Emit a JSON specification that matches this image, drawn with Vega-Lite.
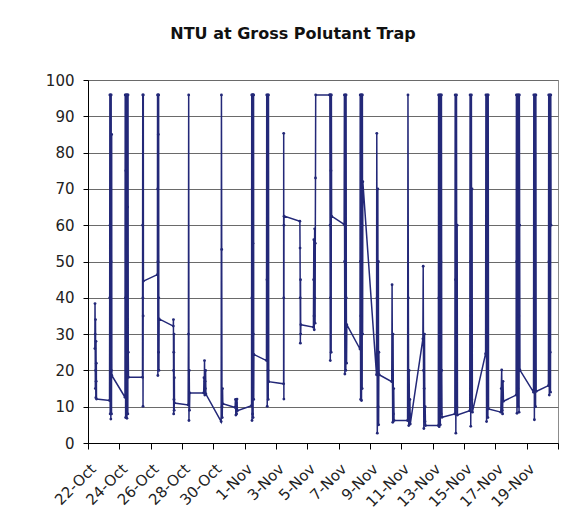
{
  "$schema": "https://vega.github.io/schema/vega-lite/v6.json",
  "autosize": {"type": "fit", "contains": "padding"},
  "width": 562,
  "height": 527,
  "padding": {"left": 45, "top": 26, "right": 3, "bottom": 17},
  "background": "white",
  "title": {
    "text": "NTU at Gross Polutant Trap",
    "font": "DejaVu Sans",
    "fontSize": 16,
    "fontWeight": "bold",
    "color": "#111111",
    "anchor": "middle",
    "dx": -30,
    "offset": 31
  },
  "config": {
    "view": {"stroke": "#8c8c8c", "strokeWidth": 1},
    "axis": {
      "labelFont": "DejaVu Sans",
      "labelFontSize": 15,
      "labelColor": "#222222",
      "domainColor": "#000000",
      "tickColor": "#000000",
      "domainWidth": 1,
      "tickWidth": 1
    },
    "axisY": {"grid": true, "gridColor": "#6a6a6a", "gridWidth": 1, "gridOpacity": 1}
  },
  "data": {
    "values": [
      {"t": "2006-10-22T10:30Z", "v": 26},
      {"t": "2006-10-22T10:45Z", "v": 38.4},
      {"t": "2006-10-22T11:00Z", "v": 30},
      {"t": "2006-10-22T11:15Z", "v": 15},
      {"t": "2006-10-22T11:30Z", "v": 34},
      {"t": "2006-10-22T11:45Z", "v": 20},
      {"t": "2006-10-22T12:00Z", "v": 12.5},
      {"t": "2006-10-22T12:15Z", "v": 28},
      {"t": "2006-10-22T12:30Z", "v": 17},
      {"t": "2006-10-22T12:45Z", "v": 22},
      {"t": "2006-10-22T13:00Z", "v": 12.1},
      {"t": "2006-10-23T09:00Z", "v": 11.7},
      {"t": "2006-10-23T09:15Z", "v": 40},
      {"t": "2006-10-23T09:30Z", "v": 95.9},
      {"t": "2006-10-23T09:45Z", "v": 60},
      {"t": "2006-10-23T10:00Z", "v": 8},
      {"t": "2006-10-23T10:15Z", "v": 30},
      {"t": "2006-10-23T10:30Z", "v": 95.9},
      {"t": "2006-10-23T10:45Z", "v": 70},
      {"t": "2006-10-23T11:00Z", "v": 6.6},
      {"t": "2006-10-23T11:15Z", "v": 50},
      {"t": "2006-10-23T11:30Z", "v": 95.9},
      {"t": "2006-10-23T11:45Z", "v": 20},
      {"t": "2006-10-23T12:00Z", "v": 8},
      {"t": "2006-10-23T12:15Z", "v": 85},
      {"t": "2006-10-23T12:30Z", "v": 18.6},
      {"t": "2006-10-24T08:40Z", "v": 12.6},
      {"t": "2006-10-24T09:00Z", "v": 95.9},
      {"t": "2006-10-24T09:20Z", "v": 40},
      {"t": "2006-10-24T09:40Z", "v": 7},
      {"t": "2006-10-24T10:00Z", "v": 75},
      {"t": "2006-10-24T10:20Z", "v": 95.9},
      {"t": "2006-10-24T10:40Z", "v": 10},
      {"t": "2006-10-24T11:00Z", "v": 55},
      {"t": "2006-10-24T11:20Z", "v": 95.9},
      {"t": "2006-10-24T11:40Z", "v": 6.8},
      {"t": "2006-10-24T12:00Z", "v": 30},
      {"t": "2006-10-24T12:20Z", "v": 95.9},
      {"t": "2006-10-24T12:40Z", "v": 65},
      {"t": "2006-10-24T13:00Z", "v": 8},
      {"t": "2006-10-24T13:20Z", "v": 95.9},
      {"t": "2006-10-24T13:40Z", "v": 25},
      {"t": "2006-10-24T14:00Z", "v": 18.1},
      {"t": "2006-10-25T11:30Z", "v": 18.1},
      {"t": "2006-10-25T11:42Z", "v": 60},
      {"t": "2006-10-25T11:54Z", "v": 95.9},
      {"t": "2006-10-25T12:06Z", "v": 40},
      {"t": "2006-10-25T12:18Z", "v": 10.1},
      {"t": "2006-10-25T12:30Z", "v": 35},
      {"t": "2006-10-25T12:42Z", "v": 95.9},
      {"t": "2006-10-25T12:54Z", "v": 44.6},
      {"t": "2006-10-26T10:20Z", "v": 46.4},
      {"t": "2006-10-26T10:34Z", "v": 95.9},
      {"t": "2006-10-26T10:48Z", "v": 70},
      {"t": "2006-10-26T11:02Z", "v": 18.6},
      {"t": "2006-10-26T11:16Z", "v": 50},
      {"t": "2006-10-26T11:30Z", "v": 95.9},
      {"t": "2006-10-26T11:44Z", "v": 85},
      {"t": "2006-10-26T11:58Z", "v": 25},
      {"t": "2006-10-26T12:12Z", "v": 95.9},
      {"t": "2006-10-26T12:26Z", "v": 40},
      {"t": "2006-10-26T12:40Z", "v": 20},
      {"t": "2006-10-26T12:54Z", "v": 34.2},
      {"t": "2006-10-27T10:40Z", "v": 32.2},
      {"t": "2006-10-27T10:52Z", "v": 34},
      {"t": "2006-10-27T11:04Z", "v": 20},
      {"t": "2006-10-27T11:16Z", "v": 8},
      {"t": "2006-10-27T11:28Z", "v": 25},
      {"t": "2006-10-27T11:40Z", "v": 12},
      {"t": "2006-10-27T11:52Z", "v": 30},
      {"t": "2006-10-27T12:04Z", "v": 9},
      {"t": "2006-10-27T12:16Z", "v": 18},
      {"t": "2006-10-27T12:28Z", "v": 11},
      {"t": "2006-10-28T09:25Z", "v": 10.5},
      {"t": "2006-10-28T09:50Z", "v": 30},
      {"t": "2006-10-28T10:15Z", "v": 95.9},
      {"t": "2006-10-28T10:40Z", "v": 6.2},
      {"t": "2006-10-28T11:05Z", "v": 20},
      {"t": "2006-10-28T11:30Z", "v": 9},
      {"t": "2006-10-28T11:55Z", "v": 13.8},
      {"t": "2006-10-29T09:15Z", "v": 13.8},
      {"t": "2006-10-29T09:40Z", "v": 18},
      {"t": "2006-10-29T10:05Z", "v": 14},
      {"t": "2006-10-29T10:30Z", "v": 22.7},
      {"t": "2006-10-29T10:55Z", "v": 13.2},
      {"t": "2006-10-29T11:20Z", "v": 17},
      {"t": "2006-10-29T11:45Z", "v": 15},
      {"t": "2006-10-29T12:10Z", "v": 20},
      {"t": "2006-10-29T12:35Z", "v": 13.5},
      {"t": "2006-10-30T12:00Z", "v": 5.9},
      {"t": "2006-10-30T12:25Z", "v": 95.9},
      {"t": "2006-10-30T12:50Z", "v": 53.3},
      {"t": "2006-10-30T13:15Z", "v": 10},
      {"t": "2006-10-30T13:40Z", "v": 7},
      {"t": "2006-10-30T14:05Z", "v": 15},
      {"t": "2006-10-30T14:30Z", "v": 10.8},
      {"t": "2006-10-31T09:20Z", "v": 9.8},
      {"t": "2006-10-31T09:55Z", "v": 12},
      {"t": "2006-10-31T10:30Z", "v": 7.7},
      {"t": "2006-10-31T11:05Z", "v": 11},
      {"t": "2006-10-31T11:40Z", "v": 8},
      {"t": "2006-10-31T12:15Z", "v": 12.1},
      {"t": "2006-10-31T12:50Z", "v": 8.9},
      {"t": "2006-11-01T10:35Z", "v": 10.3},
      {"t": "2006-11-01T10:49Z", "v": 95.9},
      {"t": "2006-11-01T11:03Z", "v": 40},
      {"t": "2006-11-01T11:17Z", "v": 6.2},
      {"t": "2006-11-01T11:31Z", "v": 70},
      {"t": "2006-11-01T11:45Z", "v": 95.9},
      {"t": "2006-11-01T11:59Z", "v": 15},
      {"t": "2006-11-01T12:13Z", "v": 8},
      {"t": "2006-11-01T12:27Z", "v": 95.9},
      {"t": "2006-11-01T12:41Z", "v": 55},
      {"t": "2006-11-01T12:55Z", "v": 7},
      {"t": "2006-11-01T13:09Z", "v": 95.9},
      {"t": "2006-11-01T13:23Z", "v": 30},
      {"t": "2006-11-01T13:37Z", "v": 95.9},
      {"t": "2006-11-01T13:51Z", "v": 12},
      {"t": "2006-11-01T14:05Z", "v": 24.4},
      {"t": "2006-11-02T09:25Z", "v": 22.7},
      {"t": "2006-11-02T09:48Z", "v": 95.9},
      {"t": "2006-11-02T10:11Z", "v": 45},
      {"t": "2006-11-02T10:34Z", "v": 10.1},
      {"t": "2006-11-02T10:57Z", "v": 80},
      {"t": "2006-11-02T11:20Z", "v": 95.9},
      {"t": "2006-11-02T11:43Z", "v": 20},
      {"t": "2006-11-02T12:06Z", "v": 12},
      {"t": "2006-11-02T12:29Z", "v": 95.9},
      {"t": "2006-11-02T12:52Z", "v": 16.9},
      {"t": "2006-11-03T11:40Z", "v": 16.3},
      {"t": "2006-11-03T11:48Z", "v": 85.3},
      {"t": "2006-11-03T11:56Z", "v": 40},
      {"t": "2006-11-03T12:04Z", "v": 12.1},
      {"t": "2006-11-03T12:12Z", "v": 60},
      {"t": "2006-11-03T12:20Z", "v": 62.5},
      {"t": "2006-11-04T12:35Z", "v": 61.1},
      {"t": "2006-11-04T12:50Z", "v": 53.7},
      {"t": "2006-11-04T13:05Z", "v": 40},
      {"t": "2006-11-04T13:20Z", "v": 27.5},
      {"t": "2006-11-04T13:35Z", "v": 45},
      {"t": "2006-11-04T13:50Z", "v": 30},
      {"t": "2006-11-04T14:05Z", "v": 32.6},
      {"t": "2006-11-05T09:20Z", "v": 31.9},
      {"t": "2006-11-05T09:39Z", "v": 45},
      {"t": "2006-11-05T09:58Z", "v": 56},
      {"t": "2006-11-05T10:17Z", "v": 35},
      {"t": "2006-11-05T10:36Z", "v": 31.2},
      {"t": "2006-11-05T10:55Z", "v": 50},
      {"t": "2006-11-05T11:14Z", "v": 59},
      {"t": "2006-11-05T11:33Z", "v": 40},
      {"t": "2006-11-05T11:52Z", "v": 33},
      {"t": "2006-11-05T12:11Z", "v": 55},
      {"t": "2006-11-05T12:30Z", "v": 73},
      {"t": "2006-11-05T12:49Z", "v": 95.9},
      {"t": "2006-11-06T10:10Z", "v": 95.9},
      {"t": "2006-11-06T10:30Z", "v": 95.9},
      {"t": "2006-11-06T10:50Z", "v": 60},
      {"t": "2006-11-06T11:10Z", "v": 22.7},
      {"t": "2006-11-06T11:30Z", "v": 40},
      {"t": "2006-11-06T11:50Z", "v": 95.9},
      {"t": "2006-11-06T12:10Z", "v": 75},
      {"t": "2006-11-06T12:30Z", "v": 25},
      {"t": "2006-11-06T12:50Z", "v": 95.9},
      {"t": "2006-11-06T13:10Z", "v": 62.5},
      {"t": "2006-11-07T08:25Z", "v": 60.2},
      {"t": "2006-11-07T08:47Z", "v": 95.9},
      {"t": "2006-11-07T09:09Z", "v": 50},
      {"t": "2006-11-07T09:31Z", "v": 19},
      {"t": "2006-11-07T09:53Z", "v": 30},
      {"t": "2006-11-07T10:15Z", "v": 95.9},
      {"t": "2006-11-07T10:37Z", "v": 70},
      {"t": "2006-11-07T10:59Z", "v": 20},
      {"t": "2006-11-07T11:21Z", "v": 95.9},
      {"t": "2006-11-07T11:43Z", "v": 40},
      {"t": "2006-11-07T12:05Z", "v": 22},
      {"t": "2006-11-07T12:27Z", "v": 32.6},
      {"t": "2006-11-08T08:40Z", "v": 25.9},
      {"t": "2006-11-08T09:00Z", "v": 95.9},
      {"t": "2006-11-08T09:20Z", "v": 50},
      {"t": "2006-11-08T09:40Z", "v": 12},
      {"t": "2006-11-08T10:00Z", "v": 35},
      {"t": "2006-11-08T10:20Z", "v": 95.9},
      {"t": "2006-11-08T10:40Z", "v": 80},
      {"t": "2006-11-08T11:00Z", "v": 11.7},
      {"t": "2006-11-08T11:20Z", "v": 95.9},
      {"t": "2006-11-08T11:40Z", "v": 60},
      {"t": "2006-11-08T12:00Z", "v": 15},
      {"t": "2006-11-08T12:20Z", "v": 95.9},
      {"t": "2006-11-08T12:40Z", "v": 30},
      {"t": "2006-11-08T13:00Z", "v": 72},
      {"t": "2006-11-09T10:00Z", "v": 18.8},
      {"t": "2006-11-09T10:24Z", "v": 85.3},
      {"t": "2006-11-09T10:48Z", "v": 40},
      {"t": "2006-11-09T11:12Z", "v": 2.7},
      {"t": "2006-11-09T11:36Z", "v": 30},
      {"t": "2006-11-09T12:00Z", "v": 70},
      {"t": "2006-11-09T12:24Z", "v": 10},
      {"t": "2006-11-09T12:48Z", "v": 50},
      {"t": "2006-11-09T13:12Z", "v": 5},
      {"t": "2006-11-09T13:36Z", "v": 25},
      {"t": "2006-11-09T14:00Z", "v": 18.8},
      {"t": "2006-11-10T09:20Z", "v": 16.9},
      {"t": "2006-11-10T09:50Z", "v": 43.6},
      {"t": "2006-11-10T10:20Z", "v": 20},
      {"t": "2006-11-10T10:50Z", "v": 5.7},
      {"t": "2006-11-10T11:20Z", "v": 30},
      {"t": "2006-11-10T11:50Z", "v": 8},
      {"t": "2006-11-10T12:20Z", "v": 15},
      {"t": "2006-11-10T12:50Z", "v": 6.2},
      {"t": "2006-11-11T09:35Z", "v": 6.2},
      {"t": "2006-11-11T10:10Z", "v": 95.9},
      {"t": "2006-11-11T10:45Z", "v": 40},
      {"t": "2006-11-11T11:20Z", "v": 4.8},
      {"t": "2006-11-11T11:55Z", "v": 20},
      {"t": "2006-11-11T12:30Z", "v": 8},
      {"t": "2006-11-11T13:05Z", "v": 12},
      {"t": "2006-11-11T13:40Z", "v": 5.2},
      {"t": "2006-11-12T09:00Z", "v": 28.7},
      {"t": "2006-11-12T09:30Z", "v": 48.7},
      {"t": "2006-11-12T10:00Z", "v": 20},
      {"t": "2006-11-12T10:30Z", "v": 4.0},
      {"t": "2006-11-12T11:00Z", "v": 15},
      {"t": "2006-11-12T11:30Z", "v": 30},
      {"t": "2006-11-12T12:00Z", "v": 6},
      {"t": "2006-11-12T12:30Z", "v": 10},
      {"t": "2006-11-12T13:00Z", "v": 4.8},
      {"t": "2006-11-13T08:40Z", "v": 4.8},
      {"t": "2006-11-13T09:06Z", "v": 95.9},
      {"t": "2006-11-13T09:32Z", "v": 40},
      {"t": "2006-11-13T09:58Z", "v": 4.5},
      {"t": "2006-11-13T10:24Z", "v": 70},
      {"t": "2006-11-13T10:50Z", "v": 95.9},
      {"t": "2006-11-13T11:16Z", "v": 12},
      {"t": "2006-11-13T11:42Z", "v": 5},
      {"t": "2006-11-13T12:08Z", "v": 95.9},
      {"t": "2006-11-13T12:34Z", "v": 50},
      {"t": "2006-11-13T13:00Z", "v": 8},
      {"t": "2006-11-13T13:26Z", "v": 95.9},
      {"t": "2006-11-13T13:52Z", "v": 20},
      {"t": "2006-11-13T14:18Z", "v": 7.1},
      {"t": "2006-11-14T10:00Z", "v": 8.0},
      {"t": "2006-11-14T10:30Z", "v": 95.9},
      {"t": "2006-11-14T11:00Z", "v": 45},
      {"t": "2006-11-14T11:30Z", "v": 2.7},
      {"t": "2006-11-14T12:00Z", "v": 30},
      {"t": "2006-11-14T12:30Z", "v": 95.9},
      {"t": "2006-11-14T13:00Z", "v": 10},
      {"t": "2006-11-14T13:30Z", "v": 60},
      {"t": "2006-11-14T14:00Z", "v": 7.7},
      {"t": "2006-11-15T08:50Z", "v": 8.9},
      {"t": "2006-11-15T09:20Z", "v": 95.9},
      {"t": "2006-11-15T09:50Z", "v": 50},
      {"t": "2006-11-15T10:20Z", "v": 4.6},
      {"t": "2006-11-15T10:50Z", "v": 35},
      {"t": "2006-11-15T11:20Z", "v": 95.9},
      {"t": "2006-11-15T11:50Z", "v": 12},
      {"t": "2006-11-15T12:20Z", "v": 70},
      {"t": "2006-11-15T12:50Z", "v": 8.5},
      {"t": "2006-11-16T09:05Z", "v": 24.6},
      {"t": "2006-11-16T09:35Z", "v": 95.9},
      {"t": "2006-11-16T10:05Z", "v": 60},
      {"t": "2006-11-16T10:35Z", "v": 5.9},
      {"t": "2006-11-16T11:05Z", "v": 40},
      {"t": "2006-11-16T11:35Z", "v": 95.9},
      {"t": "2006-11-16T12:05Z", "v": 20},
      {"t": "2006-11-16T12:35Z", "v": 7},
      {"t": "2006-11-16T13:05Z", "v": 95.9},
      {"t": "2006-11-16T13:35Z", "v": 9.4},
      {"t": "2006-11-17T08:25Z", "v": 8.5},
      {"t": "2006-11-17T09:05Z", "v": 15},
      {"t": "2006-11-17T09:45Z", "v": 20.1},
      {"t": "2006-11-17T10:25Z", "v": 9},
      {"t": "2006-11-17T11:05Z", "v": 8.0},
      {"t": "2006-11-17T11:45Z", "v": 17},
      {"t": "2006-11-17T12:25Z", "v": 11.5},
      {"t": "2006-11-18T07:50Z", "v": 13.2},
      {"t": "2006-11-18T08:17Z", "v": 95.9},
      {"t": "2006-11-18T08:44Z", "v": 50},
      {"t": "2006-11-18T09:11Z", "v": 8.2},
      {"t": "2006-11-18T09:38Z", "v": 70},
      {"t": "2006-11-18T10:05Z", "v": 95.9},
      {"t": "2006-11-18T10:32Z", "v": 15},
      {"t": "2006-11-18T10:59Z", "v": 10},
      {"t": "2006-11-18T11:26Z", "v": 95.9},
      {"t": "2006-11-18T11:53Z", "v": 35},
      {"t": "2006-11-18T12:20Z", "v": 8.5},
      {"t": "2006-11-18T12:47Z", "v": 95.9},
      {"t": "2006-11-18T13:14Z", "v": 60},
      {"t": "2006-11-18T13:41Z", "v": 20.1},
      {"t": "2006-11-19T10:30Z", "v": 14.0},
      {"t": "2006-11-19T10:57Z", "v": 95.9},
      {"t": "2006-11-19T11:24Z", "v": 40},
      {"t": "2006-11-19T11:51Z", "v": 6.4},
      {"t": "2006-11-19T12:18Z", "v": 80},
      {"t": "2006-11-19T12:45Z", "v": 95.9},
      {"t": "2006-11-19T13:12Z", "v": 20},
      {"t": "2006-11-19T13:39Z", "v": 10},
      {"t": "2006-11-19T14:06Z", "v": 95.9},
      {"t": "2006-11-19T14:33Z", "v": 14.2},
      {"t": "2006-11-20T09:20Z", "v": 15.8},
      {"t": "2006-11-20T09:47Z", "v": 95.9},
      {"t": "2006-11-20T10:14Z", "v": 50},
      {"t": "2006-11-20T10:41Z", "v": 13.2},
      {"t": "2006-11-20T11:08Z", "v": 75},
      {"t": "2006-11-20T11:35Z", "v": 95.9},
      {"t": "2006-11-20T12:02Z", "v": 25},
      {"t": "2006-11-20T12:29Z", "v": 14},
      {"t": "2006-11-20T12:56Z", "v": 95.9},
      {"t": "2006-11-20T13:23Z", "v": 60}
    ]
  },
  "mark": {
    "type": "line",
    "color": "#232878",
    "strokeWidth": 1.5,
    "point": {"filled": true, "size": 8, "color": "#232878"}
  },
  "encoding": {
    "x": {
      "field": "t",
      "type": "temporal",
      "title": null,
      "scale": {
        "type": "utc",
        "domain": [
          {"year": 2006, "month": 10, "date": 22, "utc": true},
          {"year": 2006, "month": 11, "date": 21, "utc": true}
        ],
        "nice": false
      },
      "axis": {
        "values": [
          {"year": 2006, "month": 10, "date": 22, "utc": true},
          {"year": 2006, "month": 10, "date": 24, "utc": true},
          {"year": 2006, "month": 10, "date": 26, "utc": true},
          {"year": 2006, "month": 10, "date": 28, "utc": true},
          {"year": 2006, "month": 10, "date": 30, "utc": true},
          {"year": 2006, "month": 11, "date": 1, "utc": true},
          {"year": 2006, "month": 11, "date": 3, "utc": true},
          {"year": 2006, "month": 11, "date": 5, "utc": true},
          {"year": 2006, "month": 11, "date": 7, "utc": true},
          {"year": 2006, "month": 11, "date": 9, "utc": true},
          {"year": 2006, "month": 11, "date": 11, "utc": true},
          {"year": 2006, "month": 11, "date": 13, "utc": true},
          {"year": 2006, "month": 11, "date": 15, "utc": true},
          {"year": 2006, "month": 11, "date": 17, "utc": true},
          {"year": 2006, "month": 11, "date": 19, "utc": true},
          {"year": 2006, "month": 11, "date": 21, "utc": true}
        ],
        "labelExpr": "datum.value > 1164000000000 ? '' : utcFormat(datum.value, '%-d-%b')",
        "labelFontSize": {"condition": {"test": "datum.value > 1164000000000", "value": 0}, "value": 15},
        "labelAngle": -45,
        "labelAlign": "right",
        "labelBaseline": "top",
        "labelPadding": 12,
        "labelOverlap": false,
        "labelBound": false,
        "labelFlush": false,
        "tickSize": 6,
        "grid": false
      }
    },
    "y": {
      "field": "v",
      "type": "quantitative",
      "title": null,
      "scale": {"domain": [0, 100], "nice": false},
      "axis": {
        "values": [0, 10, 20, 30, 40, 50, 60, 70, 80, 90, 100],
        "grid": true,
        "gridColor": "#6a6a6a",
        "gridWidth": 1,
        "tickSize": 5,
        "labelPadding": 9
      }
    }
  }
}
